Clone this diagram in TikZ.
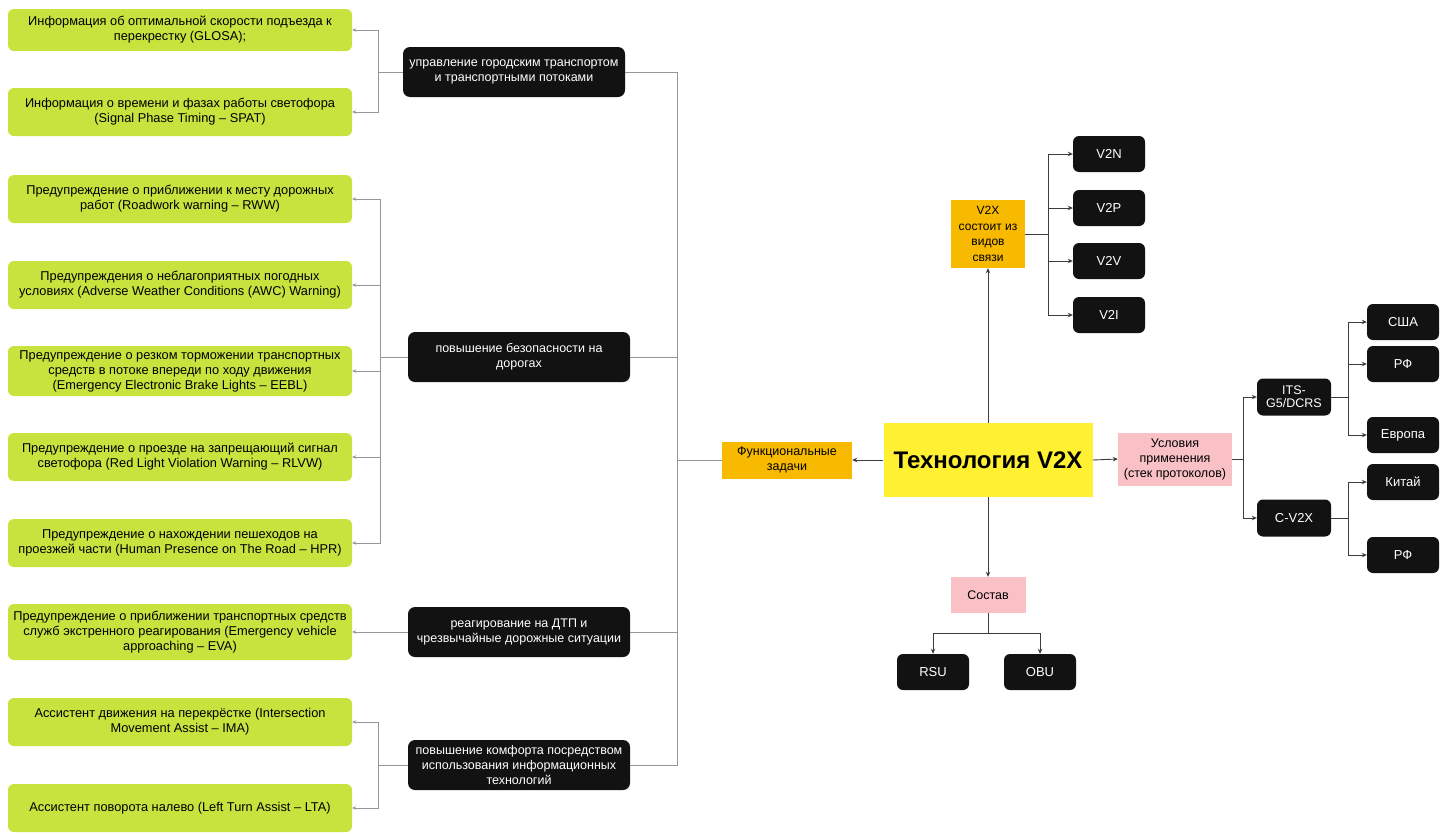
\documentclass[tikz,border=0pt]{standalone}
\usepackage{fontspec}
\setmainfont{Liberation Sans}
\usetikzlibrary{arrows.meta}
\definecolor{lime}{RGB}{200,226,62}
\definecolor{blk}{RGB}{18,18,18}
\definecolor{ylw}{RGB}{255,240,50}
\definecolor{org}{RGB}{247,186,0}
\definecolor{pnk}{RGB}{249,192,198}
\definecolor{lgrey}{RGB}{150,150,150}
\definecolor{dgrey}{RGB}{60,60,60}
\tikzset{
  greenbox/.style={fill=lime, rounded corners=6pt, minimum width=344pt, minimum height=48pt, align=center, font=\fontsize{12.8}{15}\selectfont, inner sep=2pt},
  blackbox/.style={fill=blk, text=white, rounded corners=7pt, minimum width=222pt, minimum height=50pt, align=center, font=\fontsize{12.5}{15}\selectfont, inner sep=1pt},
  smallbox/.style={fill=blk, text=white, rounded corners=6pt, minimum width=72pt, minimum height=36pt, align=center, font=\fontsize{13}{15}\selectfont, inner sep=2pt},
  orgbox/.style={fill=org, align=center, font=\fontsize{12.5}{15}\selectfont, inner sep=2pt},
  pinkbox/.style={fill=pnk, align=center, font=\fontsize{12.5}{15}\selectfont, inner sep=2pt},
  lline/.style={draw=lgrey, line width=0.9pt},
  larr/.style={draw=lgrey, line width=0.9pt, -{Stealth[length=4pt,width=3.5pt]}},
  dline/.style={draw=dgrey, line width=0.9pt},
  darr/.style={draw=dgrey, line width=0.9pt, -{Stealth[length=5pt,width=4.5pt]}},
}
\begin{document}
\begin{tikzpicture}[x=1pt,y=-1pt]
\useasboundingbox[fill=white] (0,0) rectangle (1450,833);

% green boxes
\node[greenbox, minimum height=42pt] (g1) at (180,30) {Информация об оптимальной скорости подъезда к\\перекрестку (GLOSA);};
\node[greenbox] (g2) at (180,112) {Информация о времени и фазах работы светофора\\(Signal Phase Timing – SPAT)};
\node[greenbox] (g3) at (180,199) {Предупреждение о приближении к месту дорожных\\работ (Roadwork warning – RWW)};
\node[greenbox] (g4) at (180,285) {Предупреждения о неблагоприятных погодных\\условиях (Adverse Weather Conditions (AWC) Warning)};
\node[greenbox, minimum height=50pt] (g5) at (180,371) {Предупреждение о резком торможении транспортных\\средств в потоке впереди по ходу движения\\(Emergency Electronic Brake Lights – EEBL)};
\node[greenbox] (g6) at (180,457) {Предупреждение о проезде на запрещающий сигнал\\светофора (Red Light Violation Warning – RLVW)};
\node[greenbox] (g7) at (180,543) {Предупреждение о нахождении пешеходов на\\проезжей части (Human Presence on The Road – HPR)};
\node[greenbox, minimum height=56pt] (g8) at (180,632) {Предупреждение о приближении транспортных средств\\служб экстренного реагирования (Emergency vehicle\\approaching – EVA)};
\node[greenbox] (g9) at (180,722) {Ассистент движения на перекрёстке (Intersection\\Movement Assist – IMA)};
\node[greenbox] (g10) at (180,808) {Ассистент поворота налево (Left Turn Assist – LTA)};

% black category boxes
\node[blackbox] (b1) at (514,72) {управление городским транспортом\\и транспортными потоками};
\node[blackbox] (b2) at (519,357) {повышение безопасности на\\дорогах};
\node[blackbox] (b3) at (519,632) {реагирование на ДТП и\\чрезвычайные дорожные ситуации};
\node[blackbox] (b4) at (519,765) {повышение комфорта посредством\\использования информационных\\технологий};

% brackets left
\coordinate (j1) at (378,72);
\draw[lline] (b1.west) -- (j1);
\draw[larr] (j1) |- (g1.east);
\draw[larr] (j1) |- (g2.east);
\coordinate (j2) at (380,357);
\draw[lline] (b2.west) -- (j2);
\foreach \g in {g3,g4,g5,g6,g7} \draw[larr] (j2) |- (\g.east);
\draw[larr] (b3.west) -- (g8.east);
\coordinate (j4) at (378,765);
\draw[lline] (b4.west) -- (j4);
\draw[larr] (j4) |- (g9.east);
\draw[larr] (j4) |- (g10.east);

% central
\node[fill=ylw, minimum width=209pt, minimum height=74pt, font=\fontsize{24}{28}\selectfont\bfseries] (tech) at (988,460) {Технология V2X};
\node[orgbox, minimum width=130pt, minimum height=37pt] (func) at (787,460) {Функциональные\\задачи};
\node[orgbox, minimum width=74pt, minimum height=68pt, font=\fontsize{12}{15.5}\selectfont] (v2x) at (988,234) {V2X\\состоит из\\видов\\связи};
\node[pinkbox, minimum width=75pt, minimum height=36pt] (sost) at (988,595) {Состав};
\node[pinkbox, minimum width=114pt, minimum height=53pt] (usl) at (1175,459) {Условия\\применения\\(стек протоколов)};

% trunk
\coordinate (tr) at (677,460);
\draw[lline] (func.west) -- (tr);
\draw[lline] (b1.east) -| (tr);
\draw[lline] (b2.east) -| (tr);
\draw[lline] (b3.east) -| (tr);
\draw[lline] (b4.east) -| (tr);

\draw[darr] (tech.west) -- (func.east);
\draw[darr] (tech.north) -- (v2x.south);
\draw[darr] (tech.south) -- (sost.north);
\draw[darr] (tech.east) -- (usl.west);

% V2X types
\node[smallbox] (v2n) at (1109,154) {V2N};
\node[smallbox] (v2p) at (1109,208) {V2P};
\node[smallbox] (v2v) at (1109,261) {V2V};
\node[smallbox] (v2i) at (1109,315) {V2I};
\coordinate (jv) at (1048,234);
\draw[dline] (v2x.east) -- (jv);
\foreach \n in {v2n,v2p,v2v,v2i} \draw[darr] (jv) |- (\n.west);

% composition
\node[smallbox] (rsu) at (933,672) {RSU};
\node[smallbox] (obu) at (1040,672) {OBU};
\coordinate (js) at (988,633);
\draw[dline] (sost.south) -- (js);
\draw[darr] (js) -| (rsu.north);
\draw[darr] (js) -| (obu.north);

% protocols
\node[smallbox, minimum width=74pt, minimum height=37pt, font=\fontsize{12.5}{13}\selectfont] (its) at (1294,397) {ITS-\\G5/DCRS};
\node[smallbox, minimum width=74pt, minimum height=37pt] (cv2x) at (1294,518) {C-V2X};
\coordinate (ju) at (1243,459);
\draw[dline] (usl.east) -- (ju);
\draw[darr] (ju) |- (its.west);
\draw[darr] (ju) |- (cv2x.west);

\node[smallbox] (usa) at (1403,322) {США};
\node[smallbox] (rf1) at (1403,364) {РФ};
\node[smallbox] (eu) at (1403,435) {Европа};
\node[smallbox] (cn) at (1403,482) {Китай};
\node[smallbox] (rf2) at (1403,555) {РФ};
\coordinate (ji) at (1348,397);
\draw[dline] (its.east) -- (ji);
\foreach \n in {usa,rf1,eu} \draw[darr] (ji) |- (\n.west);
\coordinate (jc) at (1348,518);
\draw[dline] (cv2x.east) -- (jc);
\foreach \n in {cn,rf2} \draw[darr] (jc) |- (\n.west);
\end{tikzpicture}
\end{document}
